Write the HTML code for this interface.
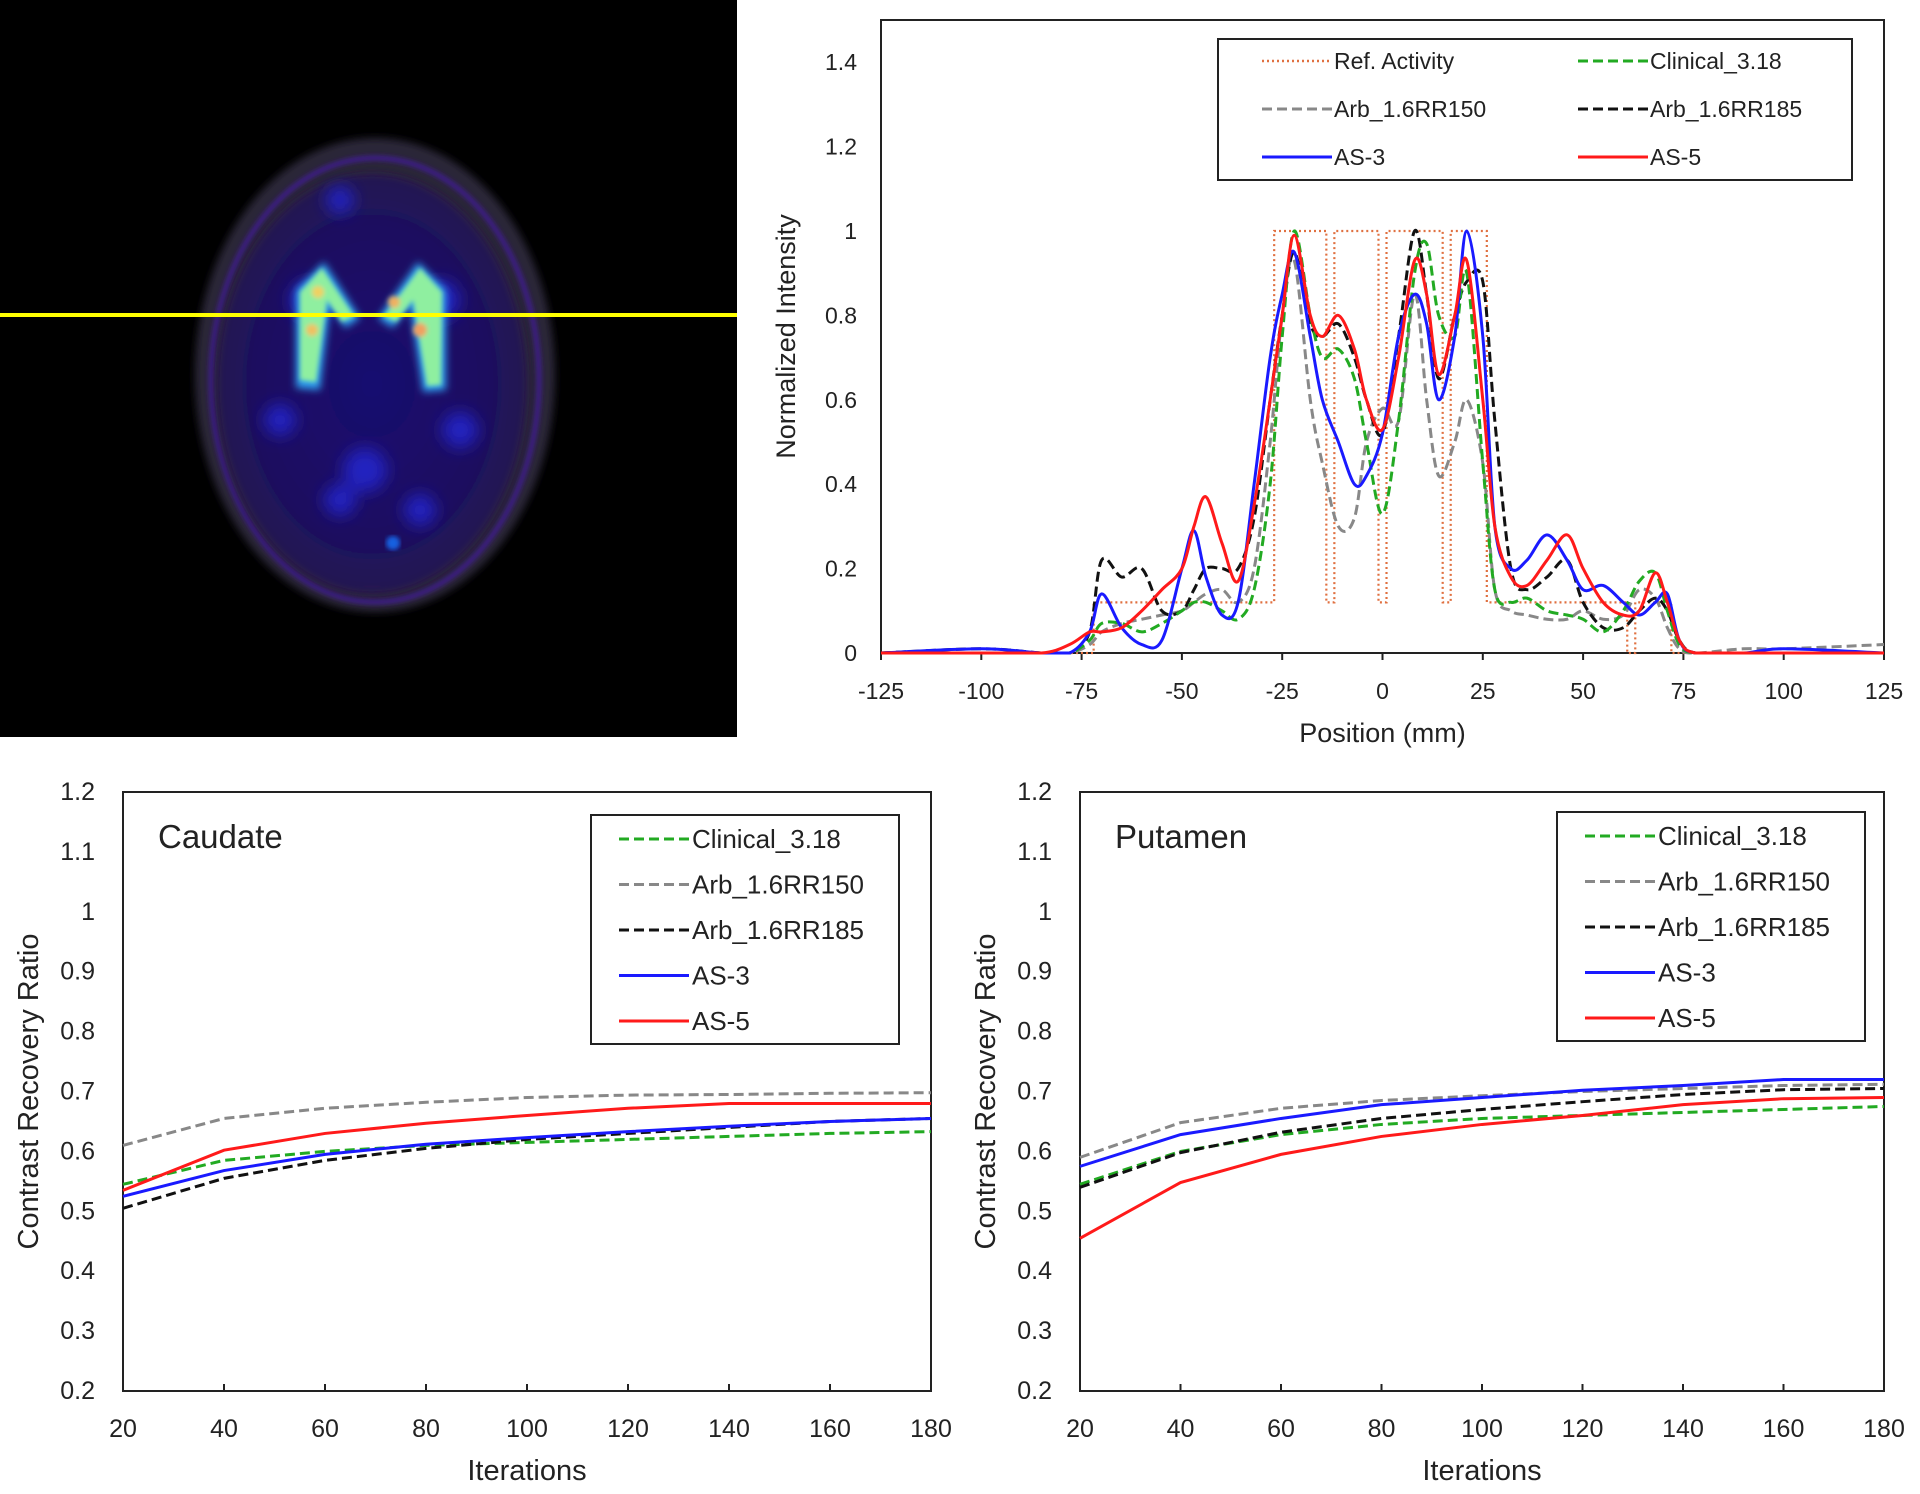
<!DOCTYPE html>
<html><head><meta charset="utf-8"><style>
html,body{margin:0;padding:0;background:#fff;}
svg{display:block;font-family:"Liberation Sans",sans-serif;}
</style></head>
<body>
<svg id="root" width="1920" height="1494" viewBox="0 0 1920 1494" xmlns="http://www.w3.org/2000/svg">
<defs>
<filter id="blur8"><feGaussianBlur stdDeviation="8"/></filter>
<filter id="blur4"><feGaussianBlur stdDeviation="4"/></filter>
<filter id="blur2"><feGaussianBlur stdDeviation="2.5"/></filter>
<radialGradient id="headg" cx="50%" cy="50%" r="50%">
<stop offset="0%" stop-color="#180f70"/><stop offset="75%" stop-color="#1c1060"/><stop offset="100%" stop-color="#261650"/>
</radialGradient>
</defs>
<g>
<rect x="0" y="0" width="737" height="737" fill="#000"/>
<ellipse cx="375" cy="375" rx="180" ry="237" fill="#2c2638" filter="url(#blur4)"/>
<ellipse cx="375" cy="380" rx="164" ry="222" fill="none" stroke="#3e1a8a" stroke-width="5" filter="url(#blur2)"/>
<ellipse cx="372" cy="384" rx="155" ry="210" fill="url(#headg)" filter="url(#blur4)"/>
<g filter="url(#blur8)" fill="#2020c0">
<circle cx="310" cy="300" r="20"/><circle cx="440" cy="300" r="20"/><circle cx="280" cy="420" r="16"/><circle cx="460" cy="430" r="18"/>
<circle cx="340" cy="500" r="16"/><circle cx="420" cy="510" r="16"/><circle cx="365" cy="470" r="22"/><circle cx="340" cy="200" r="14"/>
</g>
<circle cx="393" cy="543" r="7" fill="#1860e0" filter="url(#blur2)"/>
<g filter="url(#blur4)">
<path d="M296 290 L324 262 L360 318 L345 328 L330 305 L320 390 L296 388 Z" fill="#2fa0f0"/>
<path d="M446 290 L418 262 L378 318 L393 328 L410 305 L423 392 L446 390 Z" fill="#2fa0f0"/>
</g>
<g filter="url(#blur2)">
<path d="M300 292 L322 268 L354 316 L342 322 L327 300 L316 382 L300 380 Z" fill="#8fefa0"/>
<path d="M442 292 L420 268 L384 316 L396 322 L413 300 L427 386 L441 385 Z" fill="#8fefa0"/>
<circle cx="318" cy="292" r="6" fill="#f0d060"/><circle cx="312" cy="330" r="6" fill="#f0c060"/>
<circle cx="394" cy="302" r="6" fill="#f0b060"/><circle cx="420" cy="330" r="7" fill="#f0a060"/>
</g>
<rect x="0" y="313" width="737" height="4" fill="#ffff00"/>
</g>
<g id="top"></g><g id="caud"></g><g id="put"></g>
</svg>
<script>
// ---- profile chart data ----
const profPos = [-125,-100,-85,-78,-73,-70,-65,-60,-55,-50,-47,-44,-40,-36,-32,-28,-25,-22,-18,-15,-11,-7,-4,0,4,8,11,14,18,21,25,28,32,36,41,46,50,55,60,64,68,71,74,78,90,100,125];
const profAS5 = [0,0,0,0.02,0.05,0.05,0.06,0.1,0.15,0.2,0.3,0.37,0.26,0.17,0.35,0.6,0.8,0.99,0.8,0.75,0.8,0.72,0.6,0.53,0.7,0.93,0.85,0.66,0.8,0.93,0.6,0.3,0.18,0.16,0.22,0.28,0.2,0.12,0.09,0.1,0.19,0.12,0.03,0,0,0,0];
const profAS3 = [0,0.01,0,0,0.05,0.14,0.06,0.02,0.03,0.2,0.29,0.18,0.09,0.12,0.4,0.7,0.85,0.95,0.75,0.6,0.5,0.4,0.42,0.52,0.75,0.85,0.78,0.6,0.75,1.0,0.75,0.3,0.2,0.22,0.28,0.22,0.15,0.16,0.12,0.09,0.12,0.14,0.03,0,0,0.01,0];
const profClin = [0,0,0,0,0.03,0.07,0.07,0.05,0.07,0.1,0.12,0.12,0.1,0.08,0.15,0.4,0.75,1.0,0.8,0.7,0.72,0.65,0.5,0.33,0.55,0.9,0.97,0.8,0.75,0.9,0.45,0.15,0.12,0.13,0.1,0.09,0.08,0.05,0.1,0.17,0.19,0.1,0.02,0,0,0,0];
const profArb150 = [0,0,0,0,0.02,0.05,0.07,0.08,0.09,0.1,0.12,0.14,0.15,0.12,0.2,0.5,0.8,0.93,0.6,0.45,0.3,0.32,0.5,0.58,0.55,0.85,0.6,0.42,0.5,0.6,0.45,0.15,0.1,0.09,0.08,0.08,0.1,0.08,0.09,0.15,0.13,0.06,0.01,0,0.01,0.01,0.02];
const profArb185 = [0,0.01,0,0,0.05,0.22,0.18,0.2,0.1,0.1,0.15,0.2,0.2,0.2,0.32,0.6,0.8,0.95,0.78,0.75,0.78,0.7,0.6,0.52,0.75,1.0,0.85,0.65,0.8,0.88,0.88,0.55,0.2,0.15,0.18,0.22,0.12,0.06,0.06,0.1,0.13,0.1,0.03,0,0,0,0];
const refEdges = [-125,-72,-27,-14,-12,-1,1,15,17,26,61,63,72,125];
const refLevels = [0,0.12,1,0.12,1,0.12,1,0.12,1,0.12,0,0.12,0];
const profXTicks = [-125,-100,-75,-50,-25,0,25,50,75,100,125];
const profYTicks = [0,0.2,0.4,0.6,0.8,1,1.2,1.4];
// ---- recovery data ----
const iters = [20,40,60,80,100,120,140,160,180];
const caudClin = [.545,.585,.6,.61,.615,.62,.625,.63,.633];
const caudArb150 = [.61,.655,.672,.682,.69,.694,.695,.697,.698];
const caudArb185 = [.505,.555,.585,.605,.62,.63,.64,.65,.655];
const caudAS3 = [.525,.568,.595,.612,.623,.633,.642,.65,.655];
const caudAS5 = [.535,.602,.63,.647,.66,.672,.68,.68,.68];
const putClin = [.545,.6,.628,.645,.655,.66,.665,.67,.675];
const putArb150 = [.59,.648,.672,.685,.693,.7,.705,.71,.712];
const putArb185 = [.54,.598,.632,.655,.67,.683,.695,.703,.705];
const putAS3 = [.575,.628,.655,.678,.69,.702,.71,.72,.72];
const putAS5 = [.455,.548,.595,.625,.645,.66,.678,.688,.69];
const crrYTicks = [0.2,0.3,0.4,0.5,0.6,0.7,0.8,0.9,1,1.1,1.2];
const crrXTicks = [20,40,60,80,100,120,140,160,180];

const NS="http://www.w3.org/2000/svg";
function mk(parent,tag,attrs,text){const e=document.createElementNS(NS,tag);for(const k in attrs)e.setAttribute(k,attrs[k]);if(text!==undefined)e.textContent=text;parent.appendChild(e);return e;}
function smooth(pts,maxY){const cl=v=>Math.min(v,maxY);let d="M"+pts[0][0]+" "+pts[0][1];for(let i=0;i<pts.length-1;i++){const p0=pts[Math.max(0,i-1)],p1=pts[i],p2=pts[i+1],p3=pts[Math.min(pts.length-1,i+2)];const c1x=p1[0]+(p2[0]-p0[0])/6,c1y=cl(p1[1]+(p2[1]-p0[1])/6),c2x=p2[0]-(p3[0]-p1[0])/6,c2y=cl(p2[1]-(p3[1]-p1[1])/6);d+=` C${c1x} ${c1y} ${c2x} ${c2y} ${p2[0]} ${p2[1]}`;}return d;}
const styles={
 clin:{stroke:"#22aa22",dash:"10 5"},a150:{stroke:"#888",dash:"10 5"},a185:{stroke:"#111",dash:"10 5"},
 as3:{stroke:"#1a1aff",dash:""},as5:{stroke:"#ff1a1a",dash:""},ref:{stroke:"#e07040",dash:"2 3"}};
function legendLine(g,x,y,st){return mk(g,"line",{x1:x,y1:y,x2:x+70,y2:y,stroke:st.stroke,"stroke-width":st.dash==="2 3"?2.5:3,"stroke-dasharray":st.dash});}

// ---- top profile chart ----
(function(){
 const g=document.getElementById("top");
 const L=881,R=1884,T=20,B=653;
 const xs=v=>L+(v+125)/250*(R-L), ys=v=>B-v/1.5*(B-T);
 const fr=mk(g,"rect",{x:L,y:T,width:R-L,height:B-T,fill:"none",stroke:"#222","stroke-width":2});
 
 profYTicks.forEach(v=>{const t=mk(g,"text",{x:L-24,y:ys(v)+8,"font-size":23,"text-anchor":"end",fill:"#222"},String(v));
  });
 profXTicks.forEach(v=>{mk(g,"line",{x1:xs(v),y1:B,x2:xs(v),y2:B+7,stroke:"#222","stroke-width":2});
  const t=mk(g,"text",{x:xs(v),y:B+46,"font-size":23,"text-anchor":"middle",fill:"#222"},String(v));
  });
 const xt=mk(g,"text",{x:(L+R)/2,y:742,"font-size":27,"text-anchor":"middle",fill:"#222"},"Position (mm)");
 
 const yt=mk(g,"text",{x:0,y:0,"font-size":27,"text-anchor":"middle",fill:"#222",transform:`translate(795,${ys(0.75)}) rotate(-90)`},"Normalized Intensity");
 
 let d="";for(let i=0;i<refLevels.length;i++){const x0=xs(refEdges[i]),x1=xs(refEdges[i+1]),y=ys(refLevels[i]);d+=(i===0?"M":"L")+x0+" "+y+" L"+x1+" "+y+" ";}
 const rp=mk(g,"path",{d:d,fill:"none",stroke:styles.ref.stroke,"stroke-width":2.2,"stroke-dasharray":"2 3"});
 
 const ser=[["arb150",profArb150,styles.a150],["arb185",profArb185,styles.a185],["clinical",profClin,styles.clin],["as3",profAS3,styles.as3],["as5",profAS5,styles.as5]];
 ser.forEach(([n,arr,st])=>{const pts=profPos.map((p,i)=>[xs(p),ys(arr[i])]);
  const p=mk(g,"path",{d:smooth(pts,B),fill:"none",stroke:st.stroke,"stroke-width":3,"stroke-dasharray":st.dash});
  });
 const lg=mk(g,"g",{});
 mk(lg,"rect",{x:1218,y:39,width:634,height:141,fill:"#fff",stroke:"#222","stroke-width":2});
 const items=[["Ref. Activity",styles.ref,1262,61],["Clinical_3.18",styles.clin,1578,61],["Arb_1.6RR150",styles.a150,1262,109],["Arb_1.6RR185",styles.a185,1578,109],["AS-3",styles.as3,1262,157],["AS-5",styles.as5,1578,157]];
 items.forEach(([lab,st,x,y])=>{legendLine(lg,x,y,st);const t=mk(lg,"text",{x:x+72,y:y+8,"font-size":23,fill:"#222"},lab);
  });
})();

// ---- recovery charts ----
function crr(id,L,R,title,legX,legY,data){
 const g=document.getElementById(id);const T=792,B=1391;
 const xs=v=>L+(v-20)/160*(R-L), ys=v=>B-(v-0.2)/1.0*(B-T);
 const fr=mk(g,"rect",{x:L,y:T,width:R-L,height:B-T,fill:"none",stroke:"#222","stroke-width":2});
 
 crrYTicks.forEach(v=>{const t=mk(g,"text",{x:L-28,y:ys(v)+8,"font-size":25,"text-anchor":"end",fill:"#222"},String(v));
  });
 crrXTicks.forEach(v=>{mk(g,"line",{x1:xs(v),y1:B,x2:xs(v),y2:B-7,stroke:"#222","stroke-width":2});
  const t=mk(g,"text",{x:xs(v),y:B+46,"font-size":25,"text-anchor":"middle",fill:"#222"},String(v));
  });
 const xt=mk(g,"text",{x:(L+R)/2,y:1480,"font-size":29,"text-anchor":"middle",fill:"#222"},"Iterations");
 
 const yt=mk(g,"text",{x:0,y:0,"font-size":29,"text-anchor":"middle",fill:"#222",transform:`translate(${L-85},${ys(0.7)}) rotate(-90)`},"Contrast Recovery Ratio");
 
 const tt=mk(g,"text",{x:L+35,y:848,"font-size":33,fill:"#222"},title);
 
 const ser=[["clinical",data[0],styles.clin],["arb150",data[1],styles.a150],["arb185",data[2],styles.a185],["as3",data[3],styles.as3],["as5",data[4],styles.as5]];
 ser.forEach(([n,arr,st])=>{const pts=iters.map((it,i)=>xs(it)+","+ys(arr[i])).join(" ");
  const p=mk(g,"polyline",{points:pts,fill:"none",stroke:st.stroke,"stroke-width":3,"stroke-dasharray":st.dash});
  });
 const lg=mk(g,"g",{});
 mk(lg,"rect",{x:legX,y:legY,width:308,height:229,fill:"#fff",stroke:"#222","stroke-width":2});
 const labs=["Clinical_3.18","Arb_1.6RR150","Arb_1.6RR185","AS-3","AS-5"];
 ser.forEach(([n,arr,st],i)=>{const y=legY+24+i*45.5;mk(lg,"line",{x1:legX+28,y1:y,x2:legX+98,y2:y,stroke:st.stroke,"stroke-width":3,"stroke-dasharray":st.dash});
  const t=mk(lg,"text",{x:legX+101,y:y+9,"font-size":26,fill:"#222"},labs[i]);
  });
}
crr("caud",123,931,"Caudate",591,815,[caudClin,caudArb150,caudArb185,caudAS3,caudAS5]);
crr("put",1080,1884,"Putamen",1557,812,[putClin,putArb150,putArb185,putAS3,putAS5]);
</script>
</body></html>
